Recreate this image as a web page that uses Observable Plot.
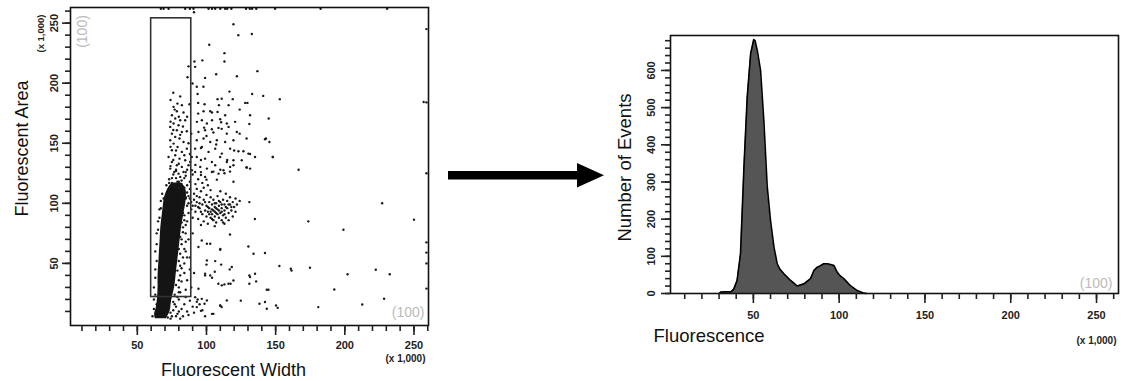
<!DOCTYPE html>
<html>
<head>
<meta charset="utf-8">
<script src="https://cdn.jsdelivr.net/npm/d3@7"></script>
<script src="https://cdn.jsdelivr.net/npm/@observablehq/plot@0.6"></script>
<style>
  body { margin: 0; background: #fff; }
  #root { position: relative; width: 1130px; height: 381px; background: #fff; overflow: hidden; }
  #left, #right, #arrow { position: absolute; top: 0; }
  #left { left: 0; }
  #right { left: 600px; }
  #arrow { left: 0; }
</style>
</head>
<body>
<div id="root">
  <div id="left"></div>
  <svg id="arrow" width="1130" height="381" style="pointer-events:none">
    <rect x="448" y="171" width="131" height="8.5" fill="#000"></rect>
    <polygon points="577,163 604,175.2 577,187.5" fill="#000"></polygon>
  </svg>
  <div id="right"></div>
</div>
<script>
// ---------- Left panel: Fluorescent Width vs Fluorescent Area (x 1,000) ----------
const xTicksMajor = [50, 100, 150, 200, 250];
const yTicksMajorLeft = [50, 100, 150, 200, 250];
const gateX = [60, 89];
const gateY = [22, 254];

// dense core of singlets (envelope)
const coreY     = [4,  8,    12,   20,   30, 40,   50,   60, 70,   80, 90,   100,  106, 112, 117];
const coreLeft  = [63, 62.5, 63.5, 64.5, 65, 65,   65.5, 66, 66.5, 67, 68,   69,   70,  72,  75];
const coreRight = [71, 73,   74,   75,   77, 78,   79,   80, 81,   82, 83.5, 85,   85.5, 85, 82];

// events inside / above the gate and to its right (upper region)
const upperEvents = [
  [91,259],[119.5,249],[123,240],[132.8,241],[102,232],[113,225],[113,218],[97,219],[91.3,218],[87,214],
  [91.8,213.6],[136.8,210],[107,207.5],[122,205.8],[99,204.4],[86.3,205],[89.9,199.7],[93,197],[97.8,197],
  [76,192],[81,189],[93.6,191],[116.6,193],[133,191],[141,189.4],[153,186.7],[108,186.7],[111,187],[119,186.7],
  [128,183.6],[129.6,183.6],[87.7,182.5],[94,183.6],[98.6,182.5],[102.7,176.7],[104,175.6],[97.9,176.7],
  [109,181.7],[116,181.7],[124,178],[94,174.7],[108,176],[113.5,173.3],[131.5,173.3],[145,170.6],
  [82.2,181.7],[76.2,180.3],[78.6,176.7],[83.4,175.6],[75,173.3],[77.4,170.6],[81,169.2],[84.6,169.2],
  [76.2,166.4],[79.8,165],[73.8,163.6],[78.6,160.8],[82.2,159.4],[85.8,160],[75,158],[77.4,155.3],
  [80.5,153.9],[73.8,152.5],[76.2,149.7],[83.4,151.1],[79.1,146.9],[75,144.2],[82.2,142.8],[85.8,145.5],
  [77.4,140],[72.6,138.6],[80.5,137.2],[84.6,135.8],[75,134.4],[78.6,131.7],[82.2,130.3],[87,131.7],
  [73.8,128.9],[76.7,126.1],[83.4,126.1],[79.8,124.7],[88.2,134.4],[89.4,127.5],
  [93.1,167.8],[96.7,169.2],[100.3,166.4],[104,169.2],[109.9,170],[114.7,166.4],[120.7,167.8],
  [94.2,159.4],[99,160.8],[103.9,161.7],[108.7,162.8],[114.7,158],[121.9,159.4],[93,152.5],[97.9,153.9],
  [102.7,151.1],[107.5,152.5],[113.5,151.1],[119.5,152.5],[91.8,145.5],[96.7,146.9],[101.5,142.8],
  [106.3,145.5],[111.1,141.4],[117.1,145.5],[123.1,143.3],[130.3,141.4],[135.1,138.6],[142.3,153.3],
  [145.5,151.1],[147.9,138.6],[93,138.6],[99,137.2],[103.9,134.4],[109.9,138.6],[114.7,134.4],[119.5,135.8],
  [126.7,143.3],[95.5,130.3],[100.3,128.9],[106.3,131.7],[112.3,127.5],[117.1,130.3],[129.1,129.7],
  [131.5,128.9],[91.8,126.1],[103.9,126.1],[108.7,124.7],[125.5,135.8],[89.4,138.6],[166.6,128],
  [110.6,167.5],[131,166],[116,163.6],[98.3,163],[111,162],[105,159],[100,156],[124,158],[129,154],[143,154],
  [107,149],[96,146],[120,144],[131.5,141],[148,138.6],[96,136],[115,136],[119.5,131.7],[110,128],[129,130],
  [117,126.4],[105,126.4],[113,125],[96,123.6],[100,119.7],[107.5,119.7],[119.5,118],
  [74,186],[79,183],[77,178],[80,172],[74,168],[83,164],[76,161],[81,157],[74,147],[78,144],[84,140],
  [76,136],[80,133],[86,128],[74,131],[78,127],[85,123],[88,141],[87,150],[86,172],[89,158],[92,132]
];

// second population (doublets) cluster around x~105, y~95
const clusterEvents = [
  [88,104],[90,98],[91,108],[92,93],[93,101],[94,87],[95,96],[95,105],[96,110],[97,91],[97,99],[98,85],
  [98,103],[99,94],[100,89],[100,98],[100,107],[101,83],[101,93],[102,101],[102,96],[103,88],[103,105],
  [104,91],[104,99],[105,86],[105,94],[105,103],[106,97],[106,89],[107,92],[107,100],[107,84],[108,95],
  [108,106],[109,88],[109,98],[110,92],[110,101],[111,86],[111,96],[112,90],[112,103],[113,94],[113,99],
  [114,88],[115,96],[115,102],[116,92],[117,99],[117,105],[118,94],[119,101],[120,97],[121,104],[122,99],
  [124,102],[119,89],[114,108],[110,110],[103,111],[98,113],[93,112],[89,95],[90,88],[96,82],[106,81],
  [112,84],[121,93],[116,86],[101,97],[104,95],[108,91],[103,93],[106,100],[99,101],[109,94],[111,99],
  [84,121],[86,115],[88,118],[90,124],[92,116],[94,120],[96,126],[97,117],[99,122],[101,115],[85,126],
  [88,112],[83,110],[73,120],[76,124],[79,118],[71,115],[78,128],[81,122],
  [75,117],[77,114],[80,113],[82,116],[84,113],[86,109],[87,106],[89,101],[91,103],[93,106],[95,100],
  [102,91],[104,87],[106,93],[107,96],[109,102],[111,93],[113,91],[114,97],[116,99],[118,97],[96,93],
  [94,97],[92,98],[87,100],[85,104],[83,106],[80,118],[78,121],[73,117],[75,121],[82,119]
];

// fringe around the dense core and sparse lower events
const lowerEvents = [
  [82,95],[84,90],[83,80],[85,75],[82,70],[84,62],[83,55],[81,48],[84,42],[82,35],[80,30],[85,28],[86,85],
  [87,70],[86,55],[88,45],[80,62],[81,40],[86,98],[85,105],[87,92],[83,100],
  [62,30],[63,45],[62,20],[63,60],[64,75],[65,85],[66,95],[67,102],[68,108],[62,12],[61,6],
  [76,18],[78,14],[80,20],[82,12],[84,16],[86,10],[88,19],[90,14],[79,8],[83,6],[75,6],[87,7],[91,9],
  [95,16],[97,11],[99,6],[93,18],[70,19],[72,22],[68,20],[77,24],[80,26],[74,4],[81,4],[85,22],
  [83,92],[84,86],[82,84],[83,76],[81,72],[82,66],[81,58],[80,52],[82,46],[79,44],[80,36],[78,32],
  [81,26],[79,22],[77,16],[76,11],[78,6],[80,10],[73,13],[74,9],[72,5],[64,16],[63,24],[63,38],
  [64,52],[64,66],[65,78],[66,88],[67,96],[69,104],[85,60],[86,36],[84,50],[85,68],[85,82],
  [96.6,69],[102.7,66.4],[109.9,61.4],[94.2,63.6],[100.3,52.5],[106.3,51.9],[118.3,47],[111.1,31.7],
  [115.9,33],[99,41.4],[102.7,40],[119.5,35.8],[94.2,28.9],[96.6,20.5],[100.3,19.2],[109.9,15],[111,13.6],
  [105,8],[91.8,21.9],[93,13.6],[114.7,19.2],[130.3,64],[134,58],[142.3,58.6],[131.5,38.6],[135.1,41.4],
  [138.3,16.4],[142.3,17.8],[143.6,12.2],[150.3,15],[151.5,13],[144.8,28],[152.7,47.8],
  [131,101],[135,87],[173.6,85],[199,78],[227,100],[250,86.4],[257,184.4],[100.3,66.4],[117,74],[113,83],
  [161,45.6],[161.5,44],[174.8,46.4],[202,41],[222.4,44.7],[232.5,41],[192.4,28.3],[228.4,20.6],
  [212.6,15.8],[180.8,13.6],[143.6,28],[135.9,35],[131,40],[131,33],[124.8,19],[117.4,33],[113,32.5],
  [108.6,33],[104,38],[99,40],[100,49],[106,43],[110.6,49],[116.8,45],[110,62],[98.6,16.4],[104,8],
  [110,14.7],[96,10.5],[93.6,20],[89,30],[88,55],[90,75],[91,42]
];

// saturated events sitting on the top and right edges
const topEdgeX = [67,69,72.6,84.6,88,90.6,101.5,104,106.3,110,113.5,115,118,128.6,131.3,133,136,149.6,182.5,230.6];
const rightEdgeY = [245,184,125,67.5,59,50,29];

// ---------- Right panel: histogram of Fluorescence (x 1,000) ----------
const histX = [30,31,37,38.5,40.5,42.5,44.5,46.4,48.4,50.2,51,52.3,54.2,56.1,58.1,60,62,63.9,65.5,67.8,71.7,75.6,79.5,83.3,85.3,87,89.2,91,93.1,95,97,98.9,100.5,102.7,106.6,110.5,114.4,116];
const histY = [0,4,5,11,35,107,340,528,645,683,680,653,600,465,286,196,125,80,65,53,35,20,26,40,62,70,75,80,80,78,75,57,48,40,21,8,1,0];
const yTicksMajorRight = [0, 100, 200, 300, 400, 500, 600];

const FONT = "'Liberation Sans', Arial, Helvetica, sans-serif";

const core = coreY.map((y, i) => ({y, x1: coreLeft[i], x2: coreRight[i]}));
const events = [
  ...upperEvents, ...clusterEvents, ...lowerEvents,
  ...topEdgeX.map(x => [x, 262]), ...rightEdgeY.map(y => [259, y])
].map(([x, y]) => ({x, y}));

const minorX = d3.range(10, 261, 10);
const minorYLeft = d3.range(10, 261, 10);
const mid = {textAnchor: "middle", lineAnchor: "middle"};

const left = Plot.plot({
  width: 440, height: 381,
  marginLeft: 70, marginRight: 12, marginTop: 7, marginBottom: 56,
  x: {domain: [1.7, 260.5], label: null},
  y: {domain: [-1.7, 263], label: null},
  style: {fontFamily: FONT, background: "transparent", overflow: "visible"},
  marks: [
    Plot.areaX(core, {y: "y", x1: "x1", x2: "x2", fill: "#141414", curve: "natural"}),
    Plot.dot(events, {x: "x", y: "y", r: 1.2, fill: "#1a1a1a", stroke: null}),
    Plot.rect([{x1: gateX[0], x2: gateX[1], y1: gateY[0], y2: gateY[1]}],
      {x1: "x1", x2: "x2", y1: "y1", y2: "y2", fill: "none", stroke: "#333", strokeWidth: 1.6}),
    Plot.frame({stroke: "#111", strokeWidth: 1.6}),
    Plot.axisX({ticks: minorX, tickSize: 6, tickFormat: () => "", strokeWidth: 1.6, stroke: "#222"}),
    Plot.axisX({ticks: xTicksMajor, tickSize: 10, tickPadding: 6, strokeWidth: 1.6, stroke: "#222",
      fontSize: 11, fontWeight: "bold", fill: "#222", tickFormat: d => String(d)}),
    Plot.axisY({ticks: minorYLeft, tickSize: 5, tickFormat: () => "", strokeWidth: 1.6, stroke: "#222"}),
    Plot.axisY({ticks: yTicksMajorLeft, tickSize: 8, tickFormat: () => "", strokeWidth: 1.6, stroke: "#222"}),
    Plot.text(yTicksMajorLeft, {y: d => d, text: d => String(d), rotate: -90, frameAnchor: "left", ...mid,
      dx: -16, fontSize: 11, fontWeight: "bold", fill: "#222"}),
    Plot.text(["Fluorescent Area"], {frameAnchor: "left", ...mid, dx: -48, dy: -18, rotate: -90, fontSize: 18, fill: "#111"}),
    Plot.text(["Fluorescent Width"], {frameAnchor: "bottom", ...mid, dx: -16, dy: 45, fontSize: 18, fill: "#111"}),
    Plot.text(["(x 1,000)"], {frameAnchor: "top-left", ...mid, dx: -30, dy: 26, rotate: -90, fontSize: 9.5, fontWeight: "bold", fill: "#222"}),
    Plot.text(["(x 1,000)"], {frameAnchor: "bottom-right", textAnchor: "end", lineAnchor: "middle", dx: -3, dy: 33, fontSize: 10, fontWeight: "bold", fill: "#222"}),
    Plot.text(["(100)"], {frameAnchor: "top-left", ...mid, dx: 12, dy: 24, rotate: -90, fontSize: 14, fill: "#bbb"}),
    Plot.text(["(100)"], {frameAnchor: "bottom-right", textAnchor: "end", lineAnchor: "middle", dx: -4, dy: -13, fontSize: 14, fill: "#bbb"})
  ]
});
document.getElementById("left").appendChild(left);

const hist = histX.map((x, i) => ({x, y: histY[i]}));
const minorYRight = d3.range(0, 681, 20);

const right = Plot.plot({
  width: 530, height: 381,
  marginLeft: 70, marginRight: 12, marginTop: 35, marginBottom: 88,
  x: {domain: [1.7, 262.8], label: null},
  y: {domain: [0, 694], label: null},
  style: {fontFamily: FONT, background: "transparent", overflow: "visible"},
  marks: [
    Plot.areaY(hist, {x: "x", y: "y", fill: "#555", curve: "linear"}),
    Plot.lineY(hist, {x: "x", y: "y", stroke: "#000", strokeWidth: 1.6, curve: "linear"}),
    Plot.frame({stroke: "#111", strokeWidth: 1.6}),
    Plot.axisX({ticks: minorX, tickSize: 6, tickFormat: () => "", strokeWidth: 1.6, stroke: "#222"}),
    Plot.axisX({ticks: xTicksMajor, tickSize: 10, tickPadding: 8, strokeWidth: 1.6, stroke: "#222",
      fontSize: 11, fontWeight: "bold", fill: "#222", tickFormat: d => String(d)}),
    Plot.axisY({ticks: minorYRight, tickSize: 5, tickFormat: () => "", strokeWidth: 1.6, stroke: "#222"}),
    Plot.axisY({ticks: yTicksMajorRight, tickSize: 9, tickFormat: () => "", strokeWidth: 1.6, stroke: "#222"}),
    Plot.text(yTicksMajorRight, {y: d => d, text: d => String(d), rotate: -90, frameAnchor: "left", ...mid,
      dx: -19, fontSize: 11, fontWeight: "bold", fill: "#222"}),
    Plot.text(["Number of Events"], {frameAnchor: "left", ...mid, dx: -45, dy: 3, rotate: -90, fontSize: 18.5, fill: "#111"}),
    Plot.text(["Fluorescence"], {frameAnchor: "bottom-left", textAnchor: "start", lineAnchor: "middle", dx: -17, dy: 43, fontSize: 18.5, fill: "#111"}),
    Plot.text(["(x 1,000)"], {frameAnchor: "bottom-right", textAnchor: "end", lineAnchor: "middle", dx: -2, dy: 47, fontSize: 10, fontWeight: "bold", fill: "#222"}),
    Plot.text(["(100)"], {frameAnchor: "bottom-right", textAnchor: "end", lineAnchor: "middle", dx: -6, dy: -10, fontSize: 14, fill: "#bbb"})
  ]
});
document.getElementById("right").appendChild(right);
</script>
</body>
</html>
